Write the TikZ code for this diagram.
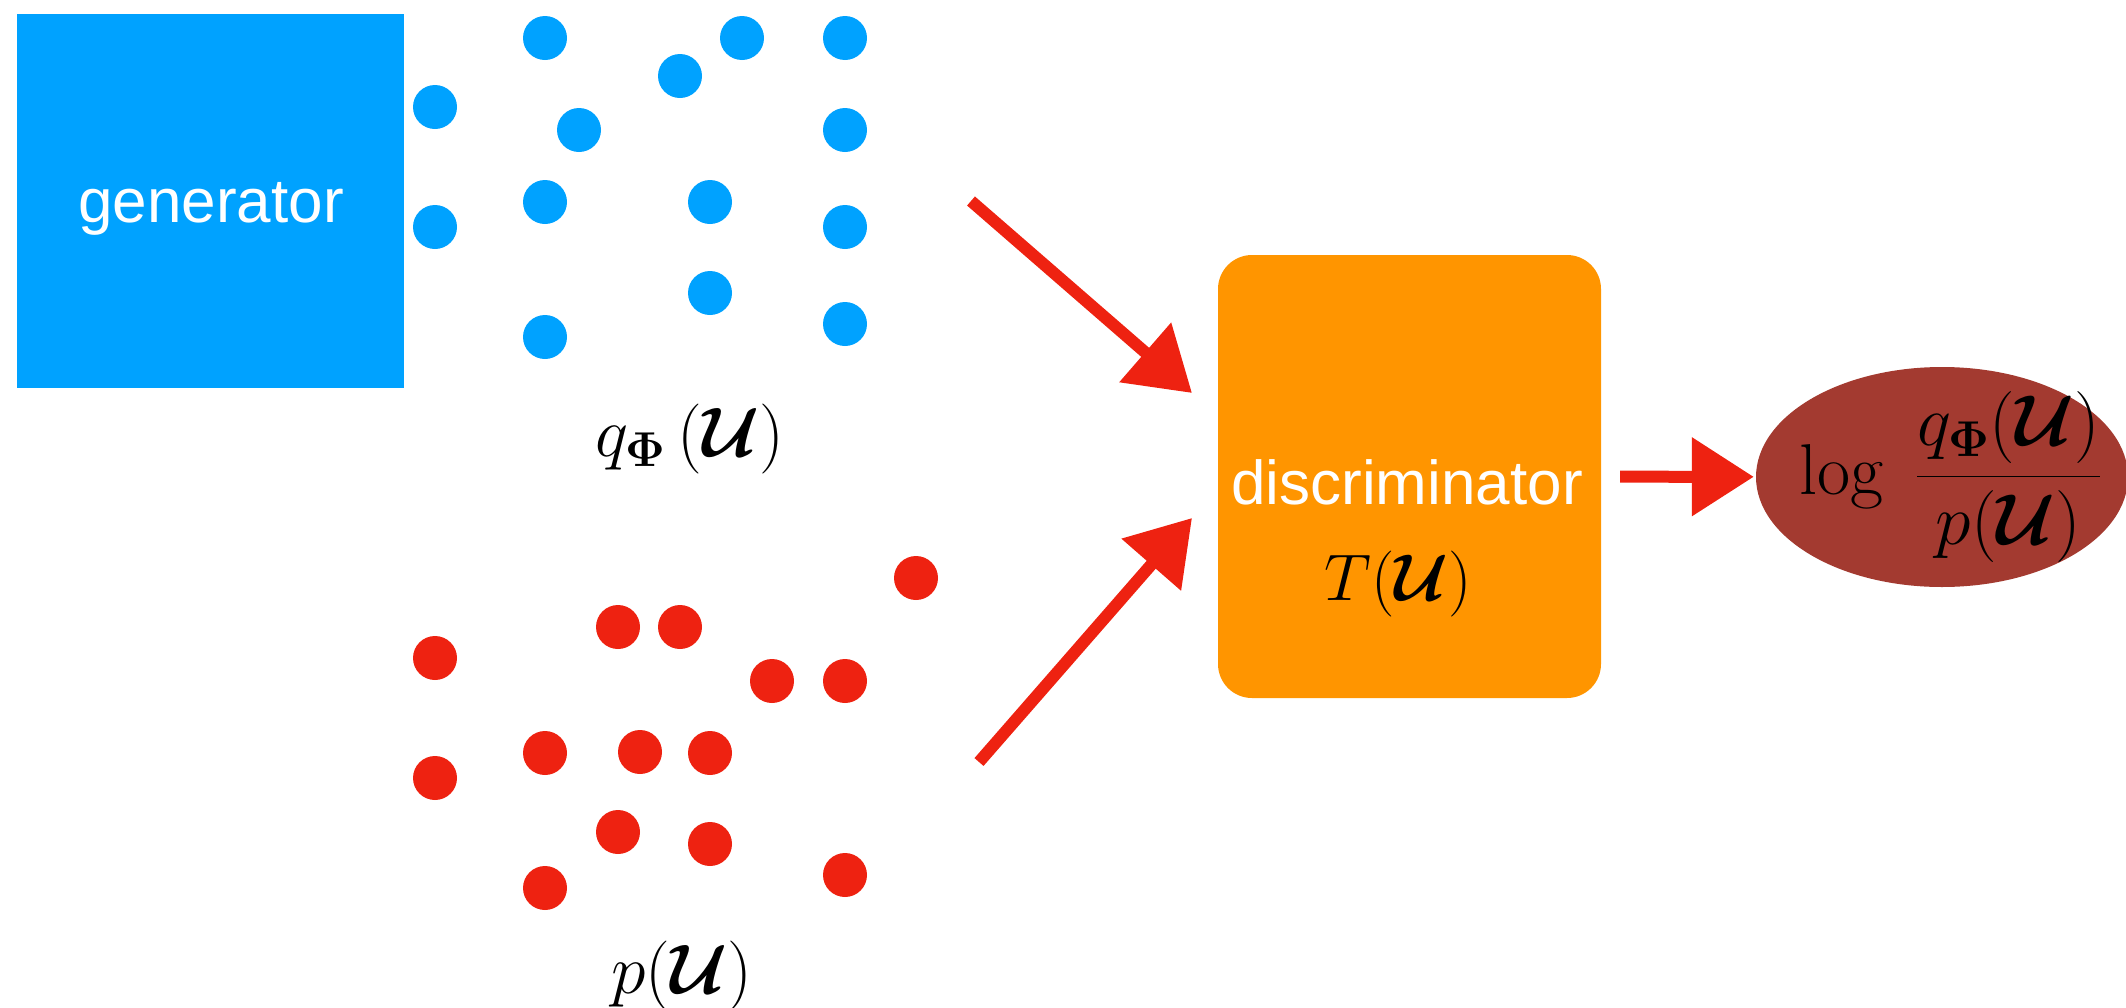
\RequirePackage{fix-cm}
\documentclass[tikz,border=0pt]{standalone}
\usepackage{amsmath}
\usepackage{bm}
\usepackage[no-math]{fontspec}
\newfontfamily\helv{Liberation Sans}
\usetikzlibrary{arrows.meta,shapes.geometric}
\definecolor{genblue}{RGB}{0,162,255}
\definecolor{dotred}{RGB}{238,34,17}
\definecolor{discorange}{RGB}{255,149,0}
\definecolor{ellred}{RGB}{163,58,48}
\newcommand{\Ucal}{\bm{\mathcal{U}}}
\newcommand{\bPhi}{\bm{\Phi}}
\begin{document}
\begin{tikzpicture}[x=1pt,y=-1pt,
  bdot/.style={circle,fill=genblue,minimum size=44pt,inner sep=0pt},
  rdot/.style={circle,fill=dotred,minimum size=44pt,inner sep=0pt},
  genbox/.style={rectangle,fill=genblue,minimum width=387pt,minimum height=374pt,inner sep=0pt},
  discbox/.style={rectangle,fill=discorange,rounded corners=34pt,minimum width=383pt,minimum height=443pt,inner sep=0pt},
  ellnode/.style={ellipse,fill=ellred,minimum width=372pt,minimum height=220pt,inner sep=0pt},
  sanslabel/.style={text=white,font=\helv\fontsize{62}{70}\selectfont,inner sep=0pt},
  mathlabel/.style={text=black,font=\fontsize{70}{80}\selectfont,inner sep=0pt},
  arr/.style={draw=dotred,line width=12pt,-{Triangle[length=62pt,width=76pt]}}
]
\useasboundingbox (0,0) rectangle (2126,1007);

\node[genbox] (gen) at (210.5,201) {};
\node[sanslabel,anchor=base] (gentext) at (211,222) {generator};

\foreach \p [count=\i] in {(545,38),(742,38),(845,38),(680,76),(435,107),(579,130),(845,130),(545,202),(710,202),(435,227),(845,227),(710,293),(545,337),(845,324)}
  \node[bdot] (b\i) at \p {};

\foreach \p [count=\i] in {(916,578),(618,627),(680,627),(435,658),(772,681),(845,681),(545,753),(640,752),(710,753),(435,778),(618,832),(710,844),(845,875),(545,888)}
  \node[rdot] (r\i) at \p {};

\node[mathlabel,anchor=base] (qlab) at (690,456) {$q_{\bPhi}\,(\Ucal)$};
\node[mathlabel,anchor=base] (plab) at (682,993) {$p(\Ucal)$};

\node[discbox] (disc) at (1409.5,476.5) {};
\node[sanslabel,anchor=base] (disctext) at (1407,504) {discriminator};
\node[mathlabel,anchor=base,font=\fontsize{66}{76}\selectfont] (Tlab) at (1398,600) {$T(\Ucal)$};

\node[ellnode] (ell) at (1942,477) {};
\node[mathlabel,font=\fontsize{72}{82}\selectfont] (ratio) at (1950,477) {$\displaystyle \log\;\frac{q_{\bPhi}(\Ucal)}{p(\Ucal)}$};

\coordinate (s1) at (971,201);
\coordinate (t1) at (1192,393);
\coordinate (s2) at (979,762);
\coordinate (t2) at (1192,518);
\draw[arr] (s1) -- (t1);
\draw[arr] (s2) -- (t2);
\draw[arr,shorten <=19pt,shorten >=2pt] (disc) -- (ell);
\end{tikzpicture}
\end{document}
